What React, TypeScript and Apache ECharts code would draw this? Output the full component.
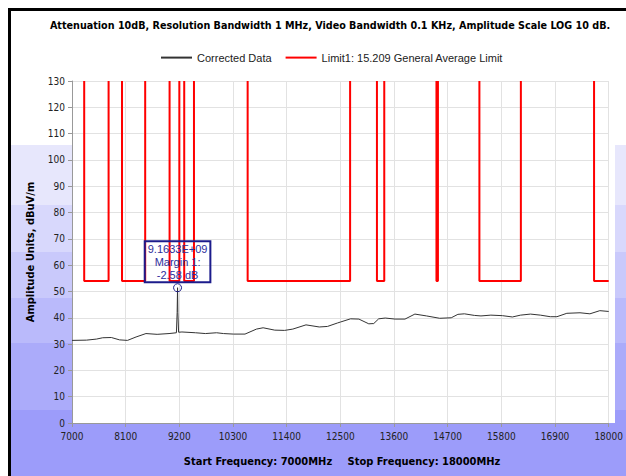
import React, { useEffect, useRef } from "react";
import * as echarts from "echarts";

// ---- data ----
const X_MIN = 7000;
const X_MAX = 18000;
const X_STEP = 1100;
const Y_MIN = 0;
const Y_MAX = 130;
const Y_STEP = 10;

// Corrected Data (MHz, dBuV/m)
const FREQ_MHZ = [
  7000, 7298, 7501, 7629, 7806, 7974, 8137, 8313, 8516, 8745, 8989, 9140, 9155, 9163.3, 9170, 9185,
  9253, 9531, 9734, 9963, 10105, 10308, 10546, 10781, 10917, 11155, 11358, 11526, 11796, 12068,
  12236, 12439, 12506, 12709, 12880, 13083, 13184, 13286, 13420, 13622, 13825, 14028, 14266, 14536,
  14773, 14909, 15043, 15246, 15382, 15585, 15823, 16026, 16194, 16397, 16600, 16803, 16939, 17142,
  17412, 17615, 17818, 18000,
];
const LEVEL_DBUV = [
  31.4, 31.5, 31.9, 32.4, 32.5, 31.6, 31.4, 32.7, 34.0, 33.7, 34.0, 34.3, 42.0, 51.42, 42.0, 34.5,
  34.6, 34.3, 34.0, 34.3, 34.0, 33.8, 33.8, 35.7, 36.2, 35.3, 35.2, 35.7, 37.3, 36.5,
  36.7, 38.0, 38.4, 39.6, 39.5, 37.7, 37.8, 39.6, 39.9, 39.5, 39.5, 41.4, 40.7, 39.8,
  40.0, 41.3, 41.5, 40.9, 40.7, 41.0, 40.8, 40.3, 41.0, 41.4, 41.0, 40.4, 40.4, 41.7,
  41.9, 41.5, 42.7, 42.4,
];

// Limit1: 15.209 General Average Limit, restricted bands (MHz)
const LIMIT_BAND_START = [7250, 8025, 9000, 9300, 10600, 13250, 14470, 15350, 17700];
const LIMIT_BAND_END = [7750, 8500, 9200, 9500, 12700, 13400, 14500, 16200, 18000];
const LIMIT_LEVEL = 54;

// Marker
const MARKER_FREQ = 9163.3;
const MARKER_LEVEL = 51.42;
const MARKER_LINES = ["9.1633E+09", "Margin 1:", "-2.58 dB"];

const TITLE = "Attenuation 10dB, Resolution Bandwidth 1 MHz, Video Bandwidth 0.1 KHz, Amplitude Scale LOG 10 dB.";
const Y_NAME = "Amplitude Units, dBuV/m";
const START_TEXT = "Start Frequency: 7000MHz";
const STOP_TEXT = "Stop Frequency: 18000MHz";

const BAND_COLORS = ["#e7e7fc", "#d8d8fc", "#c9c9fb", "#babafb", "#ababfa", "#9c9cfa"];
const BAND_TOPS = [145, 205, 252, 298, 343, 410];

const TAHOMA = '"DejaVu Sans Condensed", "DejaVu Sans", sans-serif';
const ARIAL = '"Liberation Sans", Arial, sans-serif';

export default function App() {
  const ref = useRef<HTMLDivElement>(null);

  useEffect(() => {
    document.body.style.margin = "0";
    document.body.style.overflow = "hidden";
    if (!ref.current) return;
    const chart = echarts.init(ref.current, null, { renderer: "svg" });

    const dataSeries = FREQ_MHZ.map((f, i) => [f - X_MIN, LEVEL_DBUV[i]]);
    const limitSeries: any[] = [];
    LIMIT_BAND_START.forEach((s, i) => {
      const e = LIMIT_BAND_END[i];
      limitSeries.push([s - X_MIN, Y_MAX]);
      limitSeries.push([s - X_MIN, LIMIT_LEVEL]);
      limitSeries.push([e - X_MIN, LIMIT_LEVEL]);
      if (e < X_MAX) {
        limitSeries.push([e - X_MIN, Y_MAX]);
        limitSeries.push([e - X_MIN, "-"]);
      }
    });

    const gridL = 72, gridT = 81, gridW = 543, gridH = 342;

    const graphics: any[] = [];
    BAND_TOPS.forEach((t, i) => {
      const b = i + 1 < BAND_TOPS.length ? BAND_TOPS[i + 1] : 476;
      graphics.push({ type: "rect", z: -10, silent: true, shape: { x: 11, y: t, width: 615, height: b - t }, style: { fill: BAND_COLORS[i] } });
    });
    graphics.push({ type: "rect", z: -9, silent: true, shape: { x: gridL, y: gridT, width: gridW, height: gridH }, style: { fill: "#ffffff" } });
    graphics.push({ type: "rect", z: 5, silent: true, shape: { x: 8, y: 8, width: 618, height: 3 }, style: { fill: "#000000" } });
    graphics.push({ type: "rect", z: 5, silent: true, shape: { x: 8, y: 8, width: 3, height: 468 }, style: { fill: "#000000" } });
    graphics.push({
      type: "text", x: 330, y: 25,
      style: { text: TITLE, font: `bold 10.7px ${TAHOMA}`, fill: "#000", textAlign: "center", textVerticalAlign: "middle" },
    });
    graphics.push({
      type: "text", x: 30, y: 252, rotation: Math.PI / 2,
      style: { text: Y_NAME, font: `bold 11px ${TAHOMA}`, fill: "#000", textAlign: "center", textVerticalAlign: "middle" },
    });
    graphics.push({
      type: "text", x: 258, y: 461,
      style: { text: START_TEXT, font: `bold 11px ${TAHOMA}`, fill: "#000", textAlign: "center", textVerticalAlign: "middle" },
    });
    graphics.push({
      type: "text", x: 424, y: 461,
      style: { text: STOP_TEXT, font: `bold 11px ${TAHOMA}`, fill: "#000", textAlign: "center", textVerticalAlign: "middle" },
    });

    const option: any = {
      animation: false,
      graphic: { elements: graphics },
      legend: {
        left: 155,
        top: 47,
        itemWidth: 31,
        itemHeight: 14,
        itemGap: 13,
        itemStyle: { opacity: 0 },
        textStyle: { fontFamily: ARIAL, fontSize: 11, color: "#222" },
        data: ["Corrected Data", "Limit1: 15.209 General Average Limit"],
      },
      grid: { left: gridL, top: gridT, width: gridW, height: gridH, containLabel: false },
      xAxis: {
        type: "value",
        min: 0,
        max: X_MAX - X_MIN,
        interval: X_STEP,
        axisLine: { show: true, lineStyle: { color: "#999", width: 1 } },
        axisTick: { show: true, length: 4, lineStyle: { color: "#999" } },
        axisLabel: {
          margin: 8,
          fontFamily: TAHOMA,
          fontSize: 10,
          color: "#222",
          formatter: (v: number) => String(v + X_MIN),
        },
        splitLine: { show: true, lineStyle: { color: "#e2e2e2", width: 1 } },
      },
      yAxis: {
        type: "value",
        min: Y_MIN,
        max: Y_MAX,
        interval: Y_STEP,
        axisLine: { show: true, lineStyle: { color: "#999", width: 1 } },
        axisTick: { show: true, length: 4, lineStyle: { color: "#999" } },
        axisLabel: { margin: 7, fontFamily: TAHOMA, fontSize: 10, color: "#222" },
        splitLine: { show: true, lineStyle: { color: "#e2e2e2", width: 1 } },
      },
      series: [
        {
          name: "Corrected Data",
          type: "line",
          data: dataSeries,
          symbol: "none",
          showSymbol: false,
          lineStyle: { color: "#333", width: 1 },
          itemStyle: { color: "#333" },
          z: 2,
          markPoint: {
            symbol: "circle",
            symbolSize: 8,
            itemStyle: { color: "rgba(255,255,255,0)", borderColor: "#1c1c8c", borderWidth: 1 },
            label: {
              show: true,
              position: "top",
              distance: 1,
              formatter: MARKER_LINES.join("\n"),
              fontFamily: ARIAL,
              fontSize: 11,
              lineHeight: 13,
              color: "#2e2e9c",
              borderColor: "#1c1c8c",
              borderWidth: 1,
              padding: [1, 3, 1, 3],
              backgroundColor: "rgba(255,255,255,0)",
            },
            data: [{ coord: [MARKER_FREQ - X_MIN, MARKER_LEVEL] }],
          },
        },
        {
          name: "Limit1: 15.209 General Average Limit",
          type: "line",
          data: limitSeries,
          symbol: "none",
          showSymbol: false,
          connectNulls: false,
          lineStyle: { color: "#ff0000", width: 2 },
          itemStyle: { color: "#ff0000" },
          z: 3,
        },
      ],
    };

    chart.setOption(option);
    return () => chart.dispose();
  }, []);

  return <div ref={ref} style={{ width: 626, height: 476 }} />;
}
